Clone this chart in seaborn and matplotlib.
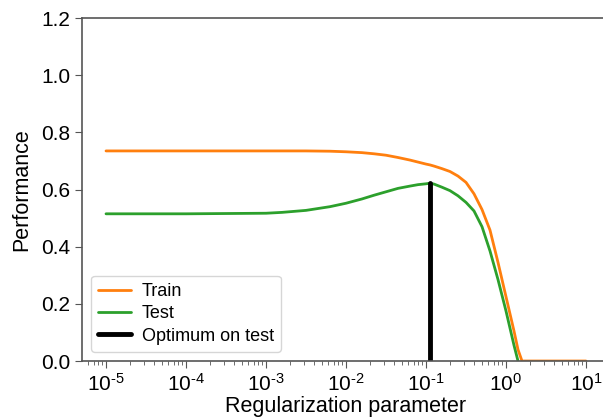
import numpy as np
import pandas as pd
import matplotlib
matplotlib.use("Agg")
import matplotlib.pyplot as plt
import seaborn as sns

# regularization parameter grid (log10 values)
log_reg = [-5, -4, -3, -2.8, -2.5, -2.2, -2.0, -1.8, -1.65, -1.5, -1.35, -1.2, -1.1,
           -1.0, -0.95, -0.9, -0.8, -0.7, -0.6, -0.5, -0.4, -0.3, -0.2, -0.1, 0.0,
           0.1, 0.15, 0.2, 0.5, 1.0]
train_perf = [0.735, 0.735, 0.735, 0.735, 0.735, 0.734, 0.732, 0.729, 0.725, 0.720,
              0.712, 0.703, 0.696, 0.689, 0.686, 0.682, 0.673, 0.663, 0.647, 0.625,
              0.585, 0.530, 0.458, 0.345, 0.225, 0.105, 0.040, 0.0, 0.0, 0.0]
test_perf = [0.515, 0.515, 0.517, 0.520, 0.527, 0.540, 0.552, 0.567, 0.580, 0.592,
             0.604, 0.612, 0.617, 0.620, 0.622, 0.619, 0.608, 0.596, 0.578, 0.555,
             0.525, 0.470, 0.385, 0.285, 0.175, 0.055, 0.0, np.nan, np.nan, np.nan]
opt_reg = 10 ** -0.95
opt_perf = 0.622

reg = 10.0 ** np.array(log_reg)
df = pd.DataFrame({"reg": reg, "Train": train_perf, "Test": test_perf})

sns.set_style("ticks")
plt.rcParams["font.family"] = ["Liberation Sans", "DejaVu Sans"]
plt.rcParams["mathtext.fontset"] = "custom"
plt.rcParams["mathtext.rm"] = "Liberation Sans"
plt.rcParams["mathtext.it"] = "Liberation Sans:italic"
plt.rcParams["text.color"] = "black"
plt.rcParams["xtick.labelcolor"] = "black"
plt.rcParams["ytick.labelcolor"] = "black"
plt.rcParams["axes.labelcolor"] = "black"

fig = plt.figure(figsize=(6.03, 4.19), dpi=100)
ax = fig.add_axes([0.136, 0.1384, 0.8756, 0.8186])

sns.lineplot(data=df, x="reg", y="Train", color="#ff7f0e", lw=2, label="Train", ax=ax)
sns.lineplot(data=df, x="reg", y="Test", color="#2ca02c", lw=2, label="Test", ax=ax)
ax.plot([opt_reg, opt_reg], [0, opt_perf], color="black", lw=3.5, label="Optimum on test")

ax.set_xscale("log")
ax.set_xlim(10 ** -5.3, 10 ** 1.3)
ax.set_ylim(0, 1.2)
ax.set_yticks([0, 0.2, 0.4, 0.6, 0.8, 1.0, 1.2])
exps = np.arange(-5, 2)
ax.set_xticks(10.0 ** exps)
ax.set_xticklabels([r"10$^{\text{%d}}$" % e for e in exps])

ax.set_xlabel("Regularization parameter", fontsize=15.5, labelpad=1)
ax.set_ylabel("Performance", fontsize=15.5, labelpad=6)
ax.tick_params(axis="both", which="major", labelsize=15, length=5, color="#555555")
ax.tick_params(axis="x", which="minor", length=3, color="#555555")

for side in ["left", "bottom", "top"]:
    ax.spines[side].set_color("#555555")
    ax.spines[side].set_linewidth(1.2)
ax.spines["right"].set_visible(False)
ax.spines["top"].set_visible(True)

ax.legend(loc="lower left", fontsize=13, frameon=True, handlelength=1.8,
          handletextpad=0.6, labelspacing=0.3)

fig.savefig("out.png", dpi=100)
